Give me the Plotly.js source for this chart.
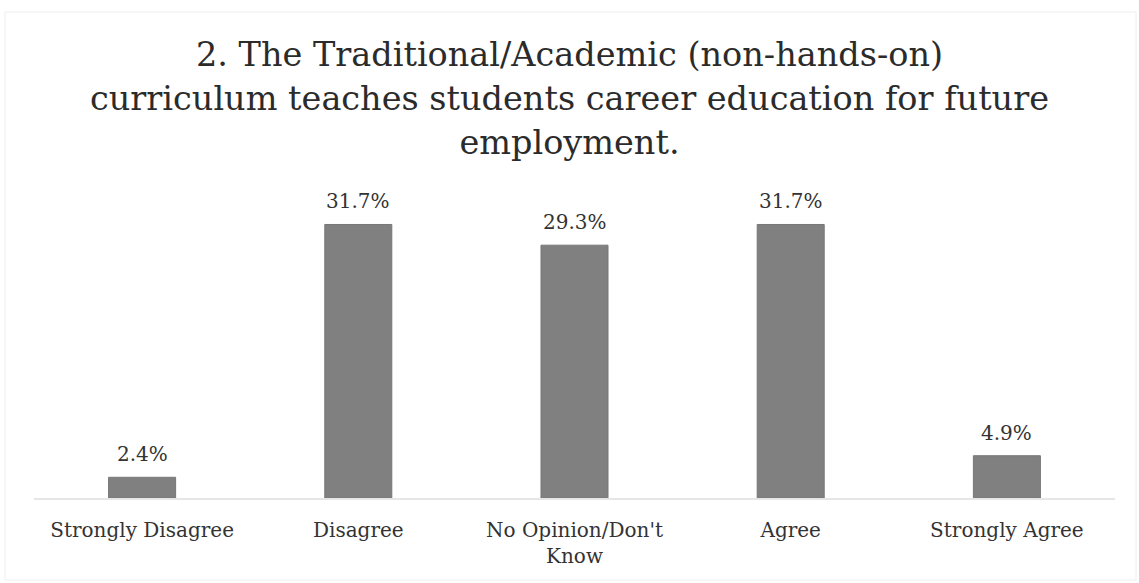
<!DOCTYPE html>
<html>
<head>
<meta charset="utf-8">
<script src="https://cdn.plot.ly/plotly-3.0.1.min.js"></script>
<style>
  html, body { margin: 0; padding: 0; background: #fff; }
  #chart { width: 1139px; height: 583px; }
</style>
</head>
<body>
<div id="chart"></div>
<script>
const categories = ["Strongly Disagree", "Disagree", "No Opinion/Don't<br>Know", "Agree", "Strongly Agree"];
const values = [2.4, 31.7, 29.3, 31.7, 4.9];
const valueLabels = ["2.4%", "31.7%", "29.3%", "31.7%", "4.9%"];
const titleText = "2. The Traditional/Academic (non-hands-on)<br>curriculum teaches students career education for future<br>employment.";

const FONT = "DejaVu Serif, Liberation Serif, serif";

const trace = {
  type: "bar",
  x: categories,
  y: values,
  marker: { color: "#808080", line: { color: "#777777", width: 1 } },
  hoverinfo: "skip"
};

const annotations = categories.map((c, i) => ({
  x: c, y: values[i], xref: "x", yref: "y",
  text: valueLabels[i], showarrow: false,
  yanchor: "bottom", yshift: 9,
  font: { family: FONT, size: 20, color: "#333333" }
}));

const layout = {
  width: 1139, height: 583,
  margin: { l: 34, r: 24, t: 196, b: 85 },
  paper_bgcolor: "#ffffff", plot_bgcolor: "#ffffff",
  bargap: 0.69,
  showlegend: false,
  title: {
    text: titleText,
    font: { family: FONT, size: 33.5, color: "#2b2b2b" },
    x: 0.5, xanchor: "center",
    y: 0.886, yref: "container", yanchor: "top"
  },
  xaxis: {
    showgrid: false, zeroline: false,
    showline: true, linecolor: "#e6e6e6", linewidth: 2,
    ticks: "", ticklabelstandoff: 13,
    tickfont: { family: FONT, size: 20, color: "#333333" }
  },
  yaxis: {
    range: [0, 35], visible: false, showgrid: false, zeroline: false
  },
  annotations: annotations,
  shapes: [{
    type: "rect", xref: "paper", yref: "paper",
    x0: -29 / 1081, x1: 1 + 21 / 1081,
    y0: -82 / 302, y1: 1 + 184 / 302,
    line: { color: "#eeeeee", width: 1 }, fillcolor: "rgba(0,0,0,0)", layer: "below"
  }]
};

Plotly.newPlot("chart", [trace], layout, { displayModeBar: false, staticPlot: true });
</script>
</body>
</html>
